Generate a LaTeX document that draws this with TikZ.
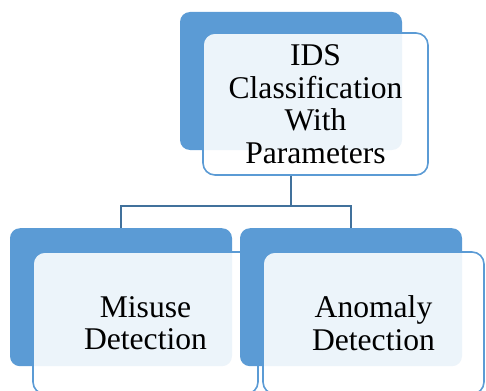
\documentclass[tikz,border=0pt]{standalone}
\usepackage{fontspec}
\setmainfont{Liberation Serif}
\newfontfamily\boxfont{Liberation Serif}
\usetikzlibrary{positioning}
\definecolor{accentblue}{HTML}{5B9BD5}
\definecolor{linkblue}{HTML}{41719C}
\begin{document}
\begin{tikzpicture}[x=1pt,y=-1pt,
	backbox/.style={fill=accentblue,rounded corners=10pt,minimum width=222pt,minimum height=138pt,inner sep=0pt},
	frontbox/.style={draw=accentblue,line width=1.6pt,fill=white,fill opacity=.89,text opacity=1,rounded corners=12pt,minimum width=225pt,minimum height=142pt,inner sep=0pt,align=center,font=\boxfont\fontsize{31.6}{32.6}\selectfont},
	link/.style={draw=linkblue,line width=1.6pt}]
				\useasboundingbox (0,0) rectangle (486,390);
				\clip (0,0) rectangle (486,390);
				\node[backbox] (idsback) at (291,81) {};
				\node[frontbox] (ids) at (315.5,104) {IDS\\Classification\\With\\Parameters};
				\draw[link] (idsback.south |- ids.south) -- ++(0,30) coordinate (fork) -| (121,228) coordinate (misusetop);
				\draw[link] (fork) -| (351,228) coordinate (anomalytop);
				\node[backbox,below=0pt of misusetop] (misuseback) {};
				\node[frontbox] (misuse) at (145.5,323) {Misuse\\Detection};
				\node[backbox,below=0pt of anomalytop] (anomalyback) {};
				\node[frontbox,minimum width=221pt] (anomaly) at (373.5,323) {Anomaly\\Detection};
	\end{tikzpicture}
\end{document}
